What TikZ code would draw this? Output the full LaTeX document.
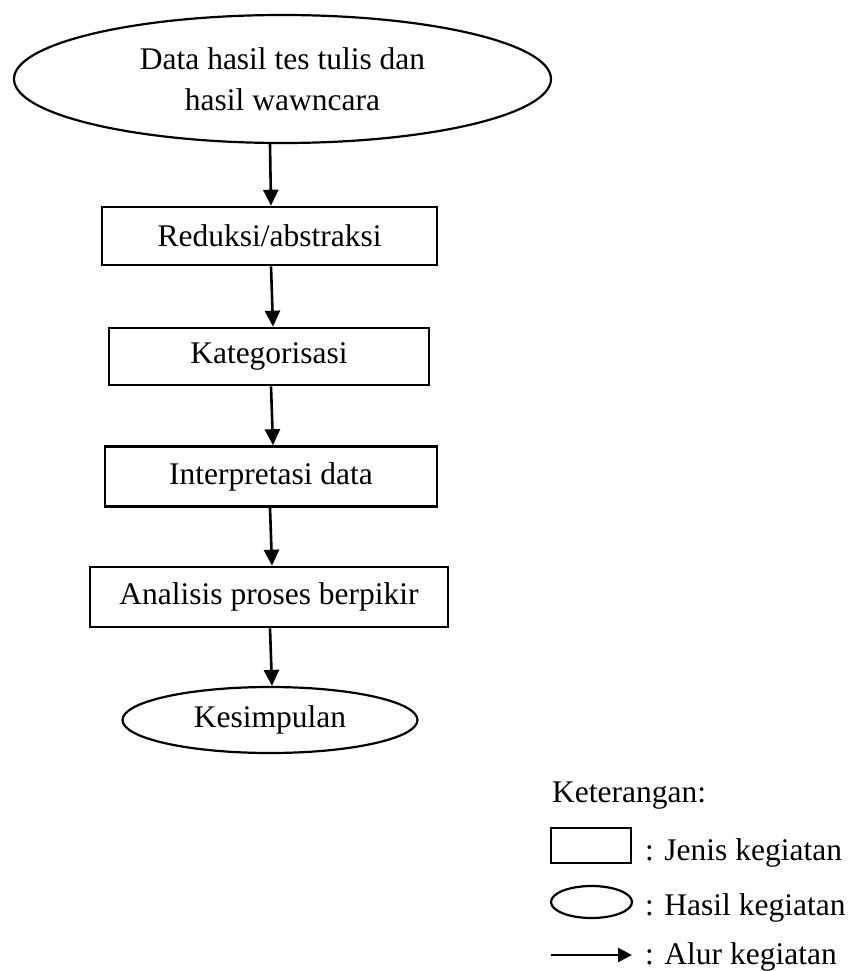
\documentclass[tikz,border=0pt]{standalone}
\usepackage{fontspec}
\setmainfont{Liberation Serif}
\usetikzlibrary{shapes.geometric,arrows.meta}
\begin{document}
\begin{tikzpicture}[x=1pt,y=-1pt,
  every node/.style={font=\fontsize{31.5}{41}\selectfont},
  stepbox/.style={draw,line width=2.6pt,inner sep=0pt,align=center},
  resultell/.style={draw,ellipse,line width=2.2pt,inner sep=0pt,align=center},
  flowarr/.style={line width=2.6pt,-{Triangle[length=16pt,width=15pt]}},
  legtext/.style={anchor=base west,inner sep=0pt}]
\useasboundingbox (0,0) rectangle (854,971);
\node[resultell,minimum width=537pt,minimum height=128pt] (e1) at (282.5,79) {Data hasil tes tulis dan\\hasil wawncara};
\node[stepbox,minimum width=335pt,minimum height=58pt] (b1) at (269.5,236) {Reduksi/abstraksi};
\node[stepbox,minimum width=320pt,minimum height=57pt] (b2) at (269,356.5) {Kategorisasi};
\node[stepbox,minimum width=332pt,minimum height=60pt] (b3) at (271,476.5) {Interpretasi data};
\node[stepbox,minimum width=358pt,minimum height=60pt] (b4) at (269,597) {Analisis proses berpikir};
\node[resultell,minimum width=295pt,minimum height=66pt] (e2) at (270,720) {Kesimpulan};
\draw[flowarr] ([xshift=-12.5pt]e1.south) -- ([xshift=1.5pt]b1.north);
\draw[flowarr] ([xshift=1.5pt]b1.south) -- ([xshift=4pt]b2.north);
\draw[flowarr] ([xshift=2pt]b2.south) -- ([xshift=2pt]b3.north);
\draw[flowarr] ([xshift=-1pt]b3.south) -- ([xshift=3pt]b4.north);
\draw[flowarr] ([xshift=1pt]b4.south) -- ([xshift=2pt]e2.north);
% legend
\node[legtext] (ket) at (552,802) {Keterangan:};
\node[stepbox,minimum width=80pt,minimum height=35pt] (lbox) at (591,845.5) {};
\node[legtext] (lt1) at (645,860) {: Jenis kegiatan};
\node[resultell,minimum width=81pt,minimum height=32pt] (lell) at (591.5,902) {};
\node[legtext] (lt2) at (645,915) {: Hasil kegiatan};
\coordinate (la) at (551,955);
\coordinate (lb) at (632,955);
\draw[line width=2.6pt,-{Triangle[length=14pt,width=14pt]}] (la) -- (lb);
\node[legtext] (lt3) at (645,964) {: Alur kegiatan};
\end{tikzpicture}
\end{document}
